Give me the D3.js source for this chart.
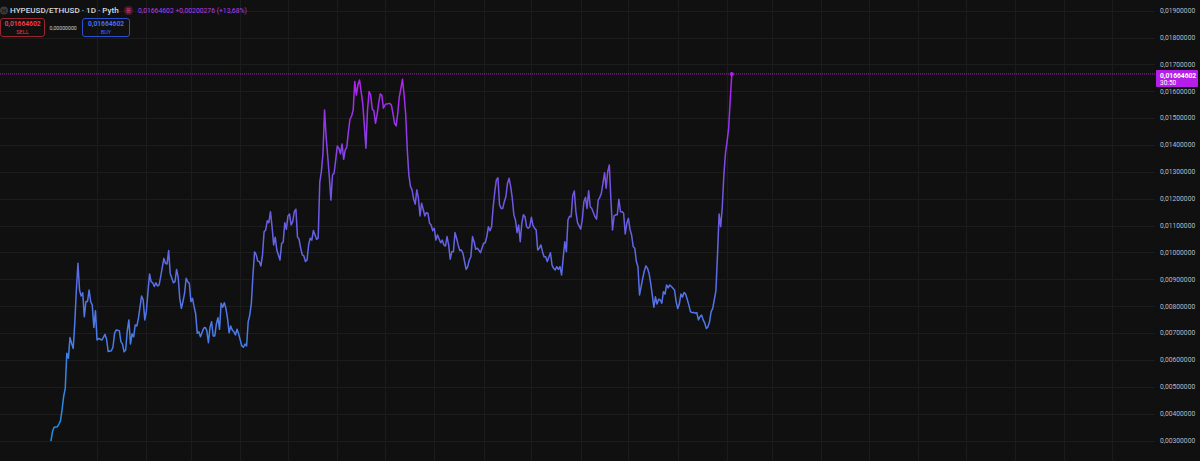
<!DOCTYPE html>
<html>
<head>
<meta charset="utf-8">
<script src="https://cdn.jsdelivr.net/npm/d3@7"></script>
<style>
  html, body { margin: 0; padding: 0; background: #101010; overflow: hidden; }
  svg { display: block; font-family: Roboto, "Noto Sans", sans-serif; }
</style>
</head>
<body>
<div class="chart"></div>
<script>
// HYPEUSD/ETHUSD daily, Pyth feed

var symbolTitle = "HYPEUSD/ETHUSD · 1D · Pyth";
var lastPrice = 0.01664602;
var priceChange = 0.00200276;
var priceChangePct = 13.68;
var spreadText = "0,00000000";
var countdown = "30:50";

// first bar of the series, every point below is "days after" this date
var startDate = new Date(2024, 11, 3);

var dayOffsets = [
  0, 1, 2, 4, 5, 6, 7, 8, 9, 10, 11, 12, 13, 14, 15, 16, 17, 18, 19, 20,
  21, 22, 23, 24, 25, 26, 27, 28, 29, 30, 32, 33, 34, 35, 36, 38, 39, 40, 41, 43,
  44, 45, 46, 47, 48, 49, 50, 51, 52, 53, 54, 55, 57, 58, 59, 60, 61, 62, 63, 64,
  65, 66, 67, 68, 69, 71, 72, 73, 74, 75, 76, 77, 78, 79, 80, 81, 82, 83, 84, 85,
  86, 87, 88, 89, 90, 91, 92, 93, 94, 96, 97, 98, 99, 100, 101, 102, 103, 104, 105, 106,
  107, 108, 109, 110, 111, 112, 113, 114, 115, 116, 117, 118, 120, 121, 122, 123, 124, 125, 126, 127,
  128, 129, 130, 131, 132, 133, 134, 135, 136, 137, 138, 139, 140, 141, 142, 144, 145, 146, 147, 148,
  149, 150, 151, 152, 153, 154, 155, 156, 157, 158, 159, 160, 161, 162, 163, 164, 165, 167, 168, 169,
  170, 171, 172, 173, 174, 175, 176, 177, 178, 179, 180, 181, 182, 183, 184, 185, 186, 187, 188, 189,
  190, 191, 192, 193, 194, 195, 196, 197, 198, 199, 200, 201, 202, 203, 204, 205, 206, 207, 208, 209,
  210, 211, 213, 214, 215, 216, 217, 218, 219, 220, 221, 222, 223, 224, 225, 226, 227, 228, 229, 230,
  231, 232, 233, 234, 235, 236, 237, 238, 239, 240, 241, 242, 243, 245, 246, 247, 248, 249, 250, 251,
  252, 253, 254, 255, 256, 257, 258, 259, 260, 261, 262, 263, 264, 265, 266, 267, 268, 269, 270, 272,
  273, 274, 275, 276, 277, 278, 279, 280, 281, 282, 283, 284, 285, 286, 287, 288, 289, 290, 291, 292,
  293, 294, 295, 296, 297, 298, 299, 300, 301, 302, 303, 304, 305, 306, 307, 308, 309, 310, 311, 312,
  314, 315, 316, 317, 318, 319, 320, 321, 322, 323, 324, 325, 326, 327, 328, 329, 330, 331, 333, 334,
  335, 336, 337, 338, 339, 340, 342, 343, 344, 345, 346, 347, 348, 349, 350, 351, 352, 353, 354, 355,
  356, 357, 358, 359, 360, 361, 362, 363, 364, 365, 366, 367, 368, 369, 370, 371, 372, 373, 374, 375,
  376, 377, 378, 379, 380, 381, 382, 383, 384, 385, 386, 387, 388, 389, 390, 392, 393, 394, 395, 396,
  397, 398, 399, 400, 401, 402, 403, 404, 405, 406, 407, 408, 409, 410, 411, 412, 413, 414, 415, 416,
  418, 419, 420, 421, 422, 423, 424, 425, 426, 427, 428
];

var prices = [
  0.00298, 0.00333, 0.00349, 0.00351, 0.00361, 0.00373, 0.00414, 0.00463, 0.00494, 0.00625, 0.00606, 0.00683, 0.00662, 0.00643, 0.00736, 0.00860, 0.00960, 0.00860, 0.00838, 0.00850,
  0.00761, 0.00817, 0.00817, 0.00860, 0.00817, 0.00804, 0.00721, 0.00783, 0.00674, 0.00680, 0.00674, 0.00684, 0.00695, 0.00677, 0.00631, 0.00634, 0.00647, 0.00699, 0.00711, 0.00709,
  0.00668, 0.00659, 0.00630, 0.00637, 0.00709, 0.00749, 0.00659, 0.00697, 0.00686, 0.00730, 0.00726, 0.00755, 0.00838, 0.00823, 0.00749, 0.00780, 0.00854, 0.00920, 0.00891, 0.00887,
  0.00873, 0.00887, 0.00875, 0.00879, 0.00910, 0.00978, 0.00960, 0.00957, 0.01007, 0.00922, 0.00904, 0.00887, 0.00891, 0.00937, 0.00908, 0.00829, 0.00792, 0.00817, 0.00848, 0.00904,
  0.00891, 0.00885, 0.00817, 0.00829, 0.00798, 0.00771, 0.00699, 0.00705, 0.00686, 0.00718, 0.00721, 0.00709, 0.00664, 0.00721, 0.00742, 0.00689, 0.00689, 0.00734, 0.00757, 0.00714,
  0.00811, 0.00796, 0.00813, 0.00792, 0.00755, 0.00701, 0.00726, 0.00711, 0.00705, 0.00693, 0.00714, 0.00697, 0.00652, 0.00647, 0.00659, 0.00652, 0.00742, 0.00767, 0.00811, 0.00916,
  0.01002, 0.00992, 0.00968, 0.00966, 0.00950, 0.00991, 0.01077, 0.01084, 0.01118, 0.01111, 0.01152, 0.01096, 0.01028, 0.01057, 0.01009, 0.00972, 0.01034, 0.01038, 0.01111, 0.01086,
  0.01136, 0.01143, 0.01102, 0.01115, 0.01152, 0.01161, 0.01057, 0.01049, 0.01016, 0.00991, 0.00987, 0.00966, 0.00972, 0.01028, 0.01053, 0.01046, 0.01082, 0.01049, 0.01053, 0.01262,
  0.01301, 0.01369, 0.01530, 0.01431, 0.01357, 0.01282, 0.01195, 0.01288, 0.01295, 0.01344, 0.01396, 0.01388, 0.01367, 0.01404, 0.01347, 0.01382, 0.01392, 0.01450, 0.01496, 0.01508,
  0.01530, 0.01636, 0.01586, 0.01624, 0.01642, 0.01599, 0.01555, 0.01475, 0.01388, 0.01530, 0.01599, 0.01586, 0.01533, 0.01528, 0.01481, 0.01512, 0.01555, 0.01590, 0.01586, 0.01537,
  0.01549, 0.01553, 0.01555, 0.01549, 0.01518, 0.01481, 0.01471, 0.01518, 0.01580, 0.01611, 0.01645, 0.01586, 0.01516, 0.01382, 0.01289, 0.01246, 0.01233, 0.01199, 0.01180, 0.01233,
  0.01202, 0.01136, 0.01183, 0.01161, 0.01136, 0.01148, 0.01146, 0.01109, 0.01102, 0.01081, 0.01090, 0.01046, 0.01065, 0.01036, 0.01046, 0.01028, 0.01024, 0.01059, 0.01028, 0.00975,
  0.01003, 0.01003, 0.01074, 0.01053, 0.01028, 0.01007, 0.01009, 0.00997, 0.00966, 0.00937, 0.00947, 0.00972, 0.00984, 0.01059, 0.01040, 0.01012, 0.01016, 0.01009, 0.00999, 0.01034,
  0.01036, 0.01059, 0.01096, 0.01081, 0.01096, 0.01170, 0.01226, 0.01270, 0.01278, 0.01177, 0.01164, 0.01164, 0.01189, 0.01208, 0.01258, 0.01276, 0.01245, 0.01202, 0.01140, 0.01121,
  0.01074, 0.01102, 0.01040, 0.01109, 0.01140, 0.01133, 0.01096, 0.01090, 0.01096, 0.01131, 0.01102, 0.01090, 0.01084, 0.01009, 0.01016, 0.01028, 0.01003, 0.00984, 0.00984, 0.00966,
  0.00999, 0.00953, 0.00941, 0.00935, 0.00947, 0.00937, 0.00947, 0.00916, 0.00979, 0.01040, 0.01003, 0.01121, 0.01135, 0.01133, 0.01212, 0.01229, 0.01151, 0.01111, 0.01087, 0.01121,
  0.01189, 0.01205, 0.01164, 0.01230, 0.01170, 0.01164, 0.01133, 0.01124, 0.01195, 0.01205, 0.01220, 0.01258, 0.01297, 0.01239, 0.01301, 0.01326, 0.01195, 0.01084, 0.01136, 0.01140,
  0.01140, 0.01198, 0.01152, 0.01152, 0.01146, 0.01069, 0.01109, 0.01127, 0.01086, 0.01065, 0.01022, 0.01016, 0.00966, 0.00947, 0.00842, 0.00873, 0.00904, 0.00931, 0.00950, 0.00941,
  0.00922, 0.00885, 0.00842, 0.00796, 0.00835, 0.00808, 0.00826, 0.00823, 0.00811, 0.00854, 0.00845, 0.00879, 0.00868, 0.00879, 0.00873, 0.00860, 0.00817, 0.00791, 0.00808, 0.00845,
  0.00834, 0.00851, 0.00845, 0.00825, 0.00804, 0.00780, 0.00776, 0.00777, 0.00774, 0.00776, 0.00749, 0.00761, 0.00767, 0.00749, 0.00737, 0.00717, 0.00723, 0.00742, 0.00780, 0.00792,
  0.00857, 0.00991, 0.01143, 0.01096, 0.01169, 0.01289, 0.01369, 0.01412, 0.01462, 0.01568, 0.01664602
];

// right price scale ticks
var yTicks = d3.range(3, 20).map(d => d / 1000);

var svgWidth = 1200;
var svgHeight = 461;
var plotRight = 1155;

var data = dayOffsets.map(function(o, i) {
  return { date: d3.timeDay.offset(startDate, o), price: prices[i] };
});

var svg = d3.select(".chart")
  .append("svg")
  .attr("width", svgWidth)
  .attr("height", svgHeight);

svg.append("rect")
  .attr("width", svgWidth)
  .attr("height", svgHeight)
  .attr("fill", "#101010");

// scales
var xTimeScale = d3.scaleTime()
  .domain([new Date(2024, 10, 1), new Date(2026, 9, 28)])
  .range([0, plotRight]);

var yLinearScale = d3.scaleLinear()
  .domain([0.003, 0.019])
  .range([440.5, 10.7]);

var fmt = function(v) { return d3.format(".8f")(v).replace(".", ","); };

// grid
var gridGroup = svg.append("g");

gridGroup.selectAll(".hgrid")
  .data(yTicks)
  .enter()
  .append("line")
  .attr("x1", 0)
  .attr("x2", plotRight)
  .attr("y1", d => Math.round(yLinearScale(d)) + 0.5)
  .attr("y2", d => Math.round(yLinearScale(d)) + 0.5)
  .attr("stroke", "#1c1c1c");

var monthTicks = d3.timeMonth.range(d3.timeMonth.ceil(startDate), xTimeScale.domain()[1]);

gridGroup.selectAll(".vgrid")
  .data(monthTicks)
  .enter()
  .append("line")
  .attr("x1", d => Math.round(xTimeScale(d)) + 0.5)
  .attr("x2", d => Math.round(xTimeScale(d)) + 0.5)
  .attr("y1", 0)
  .attr("y2", svgHeight)
  .attr("stroke", "#1c1c1c");

// price axis labels
var axisGroup = svg.append("g");
axisGroup.selectAll("text")
  .data(yTicks)
  .enter()
  .append("text")
  .attr("x", 1160)
  .attr("y", d => yLinearScale(d))
  .attr("dy", "0.35em")
  .attr("font-size", "6.7px")
  .attr("fill", "#b9bcc4")
  .text(d => fmt(d));

// gradient along price
var defs = svg.append("defs");
var grad = defs.append("linearGradient")
  .attr("id", "lineGrad")
  .attr("gradientUnits", "userSpaceOnUse")
  .attr("x1", 0).attr("x2", 0)
  .attr("y1", yLinearScale(0.003))
  .attr("y2", yLinearScale(lastPrice));

[[0, "#1e8fe0"], [0.3, "#4a7be8"], [0.5, "#5f68e6"], [0.7, "#7652e4"], [0.85, "#9338ea"], [1, "#b61df2"]]
  .forEach(function(s) {
    grad.append("stop").attr("offset", s[0]).attr("stop-color", s[1]);
  });

// last price line
var yLast = yLinearScale(lastPrice);
svg.append("line")
  .attr("x1", 0)
  .attr("x2", plotRight)
  .attr("y1", yLast)
  .attr("y2", yLast)
  .attr("stroke", "#9c27b0")
  .attr("stroke-width", 1)
  .attr("stroke-dasharray", "1,1");

// line
var line = d3.line()
  .x(d => xTimeScale(d.date))
  .y(d => yLinearScale(d.price));

svg.append("path")
  .datum(data)
  .attr("d", line)
  .attr("fill", "none")
  .attr("stroke", "url(#lineGrad)")
  .attr("stroke-width", 1.5)
  .attr("stroke-linejoin", "round");

var lastPoint = data[data.length - 1];
svg.append("circle")
  .attr("cx", xTimeScale(lastPoint.date))
  .attr("cy", yLinearScale(lastPoint.price))
  .attr("r", 2)
  .attr("fill", "#b61df2");

// price label on the scale
svg.append("rect")
  .attr("x", 1156)
  .attr("y", yLast - 4)
  .attr("width", 42)
  .attr("height", 17)
  .attr("rx", 1)
  .attr("fill", "#b41ee8");

svg.append("text")
  .attr("x", 1160)
  .attr("y", yLast + 3.6)
  .attr("font-size", "6.7px")
  .attr("font-weight", "bold")
  .attr("fill", "#ffffff")
  .text(fmt(lastPrice));

svg.append("text")
  .attr("x", 1160)
  .attr("y", yLast + 11.4)
  .attr("font-size", "6.5px")
  .attr("fill", "#ffffff")
  .text(countdown);

// header
var header = svg.append("g");

header.append("circle")
  .attr("cx", 4).attr("cy", 10.5).attr("r", 4)
  .attr("fill", "#3a3a3a");
header.append("text")
  .attr("x", 4).attr("y", 12.8)
  .attr("text-anchor", "middle")
  .attr("font-size", "6px")
  .attr("font-weight", "bold")
  .attr("fill", "#1a1a1a")
  .text("H");

header.append("text")
  .attr("x", 10)
  .attr("y", 13.4)
  .attr("font-size", "8.1px")
  .attr("font-weight", 500)
  .attr("fill", "#d6d8de")
  .text(symbolTitle);

header.append("circle")
  .attr("cx", 128.5).attr("cy", 10.5).attr("r", 4.5)
  .attr("fill", "#4a1b2c");
[-1.6, 0, 1.6].forEach(function(dy) {
  header.append("line")
    .attr("x1", 126.5).attr("x2", 130.5)
    .attr("y1", 10.5 + dy).attr("y2", 10.5 + dy)
    .attr("stroke", "#e0407a")
    .attr("stroke-width", 0.8);
});

header.append("text")
  .attr("x", 138)
  .attr("y", 13)
  .attr("font-size", "6.8px")
  .attr("fill", "#b23ee6")
  .text(fmt(lastPrice) + "  +" + fmt(priceChange) + " (+" + d3.format(".2f")(priceChangePct).replace(".", ",") + "%)");

// sell / buy boxes
function tradeBox(x0, w, stroke, color, label) {
  header.append("rect")
    .attr("x", x0 + 0.5).attr("y", 18.5)
    .attr("width", w).attr("height", 18)
    .attr("rx", 2.5)
    .attr("fill", "none")
    .attr("stroke", stroke);
  header.append("text")
    .attr("x", x0 + w / 2 + 0.5).attr("y", 26)
    .attr("text-anchor", "middle")
    .attr("font-size", "6.7px")
    .attr("font-weight", "bold")
    .attr("fill", color)
    .text(fmt(lastPrice));
  header.append("text")
    .attr("x", x0 + w / 2 + 0.5).attr("y", 33.8)
    .attr("text-anchor", "middle")
    .attr("font-size", "5.6px")
    .attr("fill", color)
    .text(label);
}
tradeBox(0, 44, "#9a2430", "#f0384a", "SELL");
tradeBox(82, 47, "#2a4fd0", "#3f6ef8", "BUY");

header.append("text")
  .attr("x", 49.5)
  .attr("y", 29.8)
  .attr("font-size", "5.2px")
  .attr("fill", "#d0d2d8")
  .text(spreadText);
</script>
</body>
</html>
